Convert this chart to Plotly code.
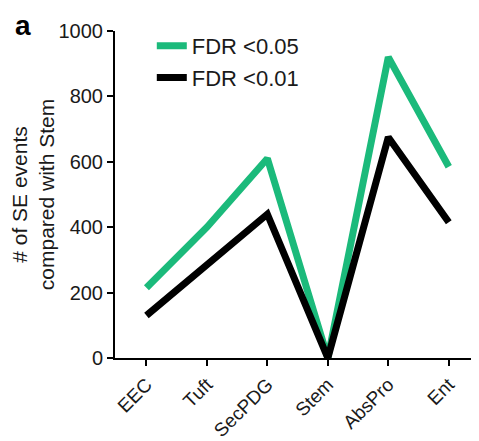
import plotly.graph_objects as go

categories = ["EEC", "Tuft", "SecPDG", "Stem", "AbsPro", "Ent"]
fdr_005 = [215, 400, 610, 0, 920, 585]
fdr_001 = [130, 285, 440, 0, 675, 415]
y_ticks = [0, 200, 400, 600, 800, 1000]

# page body has an 8px margin
W, H = 471, 433
L, R, T, B = 105, 0, 23, 83
PW, PH = W - L - R, H - T - B

fig = go.Figure()
fig.add_trace(go.Scatter(x=categories, y=fdr_005, mode="lines", name="FDR <0.05",
                         line=dict(color="#1BBA7B", width=7)))
fig.add_trace(go.Scatter(x=categories, y=fdr_001, mode="lines", name="FDR <0.01",
                         line=dict(color="#000000", width=7)))

font = "Liberation Sans, Arial, sans-serif"
fig.update_layout(
    width=W, height=H,
    margin=dict(l=L, r=R, t=T, b=B, pad=0),
    paper_bgcolor="white", plot_bgcolor="white",
    font=dict(family=font, color="#1a1a1a"),
    showlegend=True,
    legend=dict(x=(142 - L) / PW, y=1 + 6 / PH, xanchor="left", yanchor="top",
                font=dict(size=22, family=font, color="#1a1a1a"),
                bgcolor="rgba(0,0,0,0)", tracegroupgap=0, itemwidth=30),
    xaxis=dict(type="category", range=[-0.52, 5.5], showgrid=False, zeroline=False,
               showline=True, linecolor="black", linewidth=2,
               ticks="outside", ticklen=6, tickwidth=2, tickcolor="black",
               tickangle=-45, tickfont=dict(size=19, family=font, color="#1a1a1a")),
    yaxis=dict(range=[0, 1000], tickvals=y_ticks, showgrid=False, zeroline=False,
               showline=True, linecolor="black", linewidth=2,
               ticks="outside", ticklen=6, tickwidth=2, tickcolor="black",
               tickfont=dict(size=20, family=font, color="#1a1a1a"),
               title=dict(text="# of SE events<br>compared with Stem",
                          font=dict(size=21, family=font, color="#1a1a1a"), standoff=8)),
)
fig.add_annotation(text="<b>a</b>", xref="paper", yref="paper", x=-(L - 3) / PW,
                   y=1 + (T - 1) / PH, xanchor="left", yanchor="top",
                   showarrow=False, borderpad=0, font=dict(size=28, family=font, color="black"))
fig.write_html("out.html")
